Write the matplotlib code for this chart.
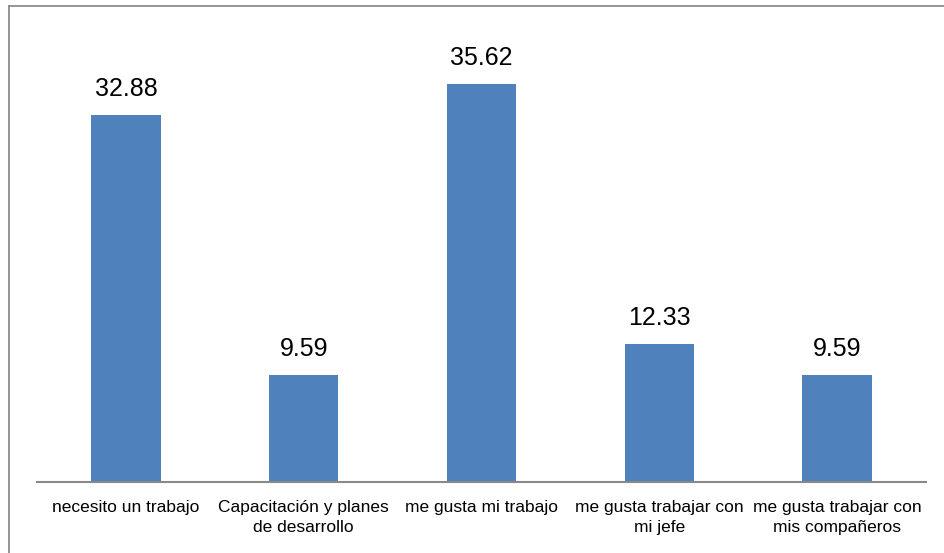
import matplotlib.pyplot as plt
from matplotlib.lines import Line2D

categories = ['necesito un trabajo', 'Capacitación y planes\nde desarrollo', 'me gusta mi trabajo',
              'me gusta trabajar con\nmi jefe', 'me gusta trabajar con\nmis compañeros']
values = [32.88, 9.59, 35.62, 12.33, 9.59]

plt.rcParams['font.family'] = ['Liberation Sans', 'DejaVu Sans']

fig = plt.figure(figsize=(9.44, 5.53), dpi=100)
ax = fig.add_axes([37 / 944, 71 / 553, 889 / 944, 447 / 553])

x = list(range(len(categories)))
bars = ax.bar(x, values, width=0.39, color='#4f81bd')

for xi, v in zip(x, values):
    ax.annotate(f'{v:.2f}', (xi, v), xytext=(0, 10), textcoords='offset points',
                ha='center', va='bottom', fontsize=18)

ax.set_xlim(-0.5, len(categories) - 0.5)
ax.set_ylim(0, 40)
ax.set_xticks(x)
ax.set_xticklabels(categories, fontsize=12.5, linespacing=1.4)
ax.tick_params(axis='x', length=0, pad=13)
ax.set_yticks([])
for s in ['top', 'right', 'left']:
    ax.spines[s].set_visible(False)
ax.spines['bottom'].set_color('#898989')
ax.spines['bottom'].set_linewidth(1.5)

# outer frame (left and top edges only visible)
fig.add_artist(Line2D([8.5 / 944, 8.5 / 944], [0, 1 - 5.5 / 553], transform=fig.transFigure,
                      color='#8c8c8c', lw=1.3))
fig.add_artist(Line2D([8.5 / 944, 1], [1 - 5.5 / 553, 1 - 5.5 / 553], transform=fig.transFigure,
                      color='#8c8c8c', lw=1.3))

fig.savefig('out.png', dpi=100)
